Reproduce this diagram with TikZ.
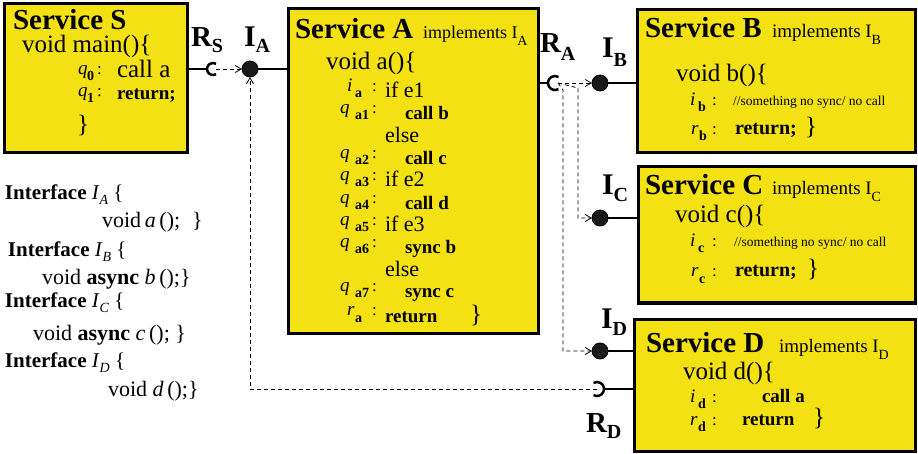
\documentclass[tikz,border=0pt]{standalone}
\usepackage{fontspec}
\setmainfont{Liberation Serif}
\usetikzlibrary{arrows.meta}
\definecolor{svcyellow}{RGB}{243,225,20}
\newcommand{\fsz}[1]{\fontsize{#1}{#1}\selectfont}
% label: letter, sub, w1, w2, raise
\newcommand{\lab}[5]{\raisebox{#5}{\makebox[#3][l]{\fsz{19}\itshape #1}\makebox[#4][l]{\raisebox{-6pt}{\fsz{14}\bfseries #2}}\fsz{17}:}}
\begin{document}
\begin{tikzpicture}[x=1pt,y=-1pt,
  svc/.style={draw=black, line width=3pt, fill=svcyellow, inner sep=0pt, outer sep=0pt},
  conn/.style={line width=2.5pt},
  ball/.style={circle, fill=black!90, draw=black, line width=0.8pt, inner sep=0pt, minimum size=16pt, outer sep=0pt},
  dsh/.style={dash pattern=on 4pt off 3pt, line width=0.8pt},
  tip/.style={-{Straight Barb[length=6pt,width=7pt,line width=0.8pt]}},
  txt/.style={anchor=base west, inner sep=0pt, outer sep=0pt},
]
\useasboundingbox (0,0) rectangle (918,454);

% boxes
\node[svc, minimum width=183pt, minimum height=149pt] (S) at (95.5,78.5) {};
\node[svc, minimum width=250pt, minimum height=324pt] (A) at (413,171) {};
\node[svc, minimum width=278pt, minimum height=143pt] (B) at (776,81.5) {};
\node[svc, minimum width=277pt, minimum height=136pt] (C) at (776.5,235) {};
\node[svc, minimum width=281pt, minimum height=132pt] (D) at (774.5,385) {};

% balls and sockets
\node[ball] (IA) at (250,69) {};
\node[ball] (IB) at (600,83) {};
\node[ball] (IC) at (600,218) {};
\node[ball] (ID) at (600,351) {};
\coordinate (RS) at (213,69);
\coordinate (RA) at (555,83);
\coordinate (RD) at (597,389);
\coordinate (bendC) at (578,88);
\coordinate (bendD) at (563,90);

% solid connectors
\draw[conn] (S.east |- RS) -- ([xshift=-6pt]RS);
\draw[conn] ([shift={(60:6)}]RS) arc[start angle=60,end angle=300,radius=6];
\draw[conn] (IA) -- (IA -| A.west);
\draw[conn] (A.east |- RA) -- ([xshift=-7pt]RA);
\draw[conn] ([shift={(60:7)}]RA) arc[start angle=60,end angle=300,radius=7];
\draw[conn] (IB) -- (IB -| B.west);
\draw[conn] (IC) -- (IC -| C.west);
\draw[conn] (ID) -- (ID -| D.west);
\draw[conn] ([shift={(120:7)}]RD) arc[start angle=120,end angle=-120,radius=7];
\draw[conn] ([xshift=7pt]RD) -- (RD -| D.west);

% dashed connectors
\draw[dsh,tip] ([xshift=3pt]RS) -- (IA);
\draw[dsh,tip] ([xshift=3pt]RA) -- (IB);
\draw[dsh,tip] ([xshift=3pt]RA) -- (bendC) |- (IC);
\draw[dsh,tip] ([xshift=3pt]RA) -- (bendD) |- (ID);
\draw[dsh,tip] (RD) -| (IA);

% port labels
\node[txt] (lRS) at (191,47) {\fsz{29}\bfseries R\raisebox{-6pt}{\fsz{20}S}};
\node[txt] (lIA) at (244,47) {\fsz{30}\bfseries I\raisebox{-6pt}{\fsz{20}A}};
\node[txt] (lRA) at (540,53) {\fsz{29}\bfseries R\raisebox{-8pt}{\fsz{20}A}};
\node[txt] (lIB) at (602,58) {\fsz{30}\bfseries I\raisebox{-9pt}{\fsz{20}B}};
\node[txt] (lIC) at (602,195) {\fsz{30}\bfseries I\raisebox{-7pt}{\fsz{20}C}};
\node[txt] (lID) at (601,328) {\fsz{30}\bfseries I\raisebox{-7pt}{\fsz{20}D}};
\node[txt] (lRD) at (586,432) {\fsz{29}\bfseries R\raisebox{-6pt}{\fsz{20}D}};

% Service S
\node[txt] (St) at (13,30) {\fsz{29}\bfseries Service S};
\node[txt] (Sm) at (22,53) {\fsz{25}void main()\{};
\node[txt] (Sq0) at (78,77) {\lab{q}{0}{9pt}{10pt}{2pt}};
\node[txt] (Sc0) at (117,78) {\fsz{25}call a};
\node[txt] (Sq1) at (78,99) {\lab{q}{1}{9pt}{10pt}{2pt}};
\node[txt] (Sc1) at (117,100) {\fsz{19}\bfseries return;};
\node[txt] (Sb) at (77,133) {\fsz{25}\}};

% Service A
\node[txt] (At) at (295,39) {\fsz{29}\bfseries Service A};
\node[txt] (Ai) at (423,39) {\fsz{18}implements I\raisebox{-7pt}{\fsz{14}A}};
\node[txt] (Am) at (326,70) {\fsz{25}void a()\{};
\node[txt] (Al1) at (347,98) {\lab{i}{a}{8pt}{17pt}{6pt}};
\node[txt] (As1) at (385,98) {\fsz{22}if e1};
\node[txt] (Al2) at (340,120) {\lab{q}{a1}{15pt}{17pt}{6pt}};
\node[txt] (As2) at (405,120) {\fsz{19}\bfseries call b};
\node[txt] (As3) at (385,143) {\fsz{22}else};
\node[txt] (Al4) at (340,165) {\lab{q}{a2}{15pt}{17pt}{6pt}};
\node[txt] (As4) at (405,165) {\fsz{19}\bfseries call c};
\node[txt] (Al5) at (340,187) {\lab{q}{a3}{15pt}{17pt}{6pt}};
\node[txt] (As5) at (385,187) {\fsz{22}if e2};
\node[txt] (Al6) at (340,210) {\lab{q}{a4}{15pt}{17pt}{6pt}};
\node[txt] (As6) at (405,210) {\fsz{19}\bfseries call d};
\node[txt] (Al7) at (340,232) {\lab{q}{a5}{15pt}{17pt}{6pt}};
\node[txt] (As7) at (385,232) {\fsz{22}if e3};
\node[txt] (Al8) at (340,254) {\lab{q}{a6}{15pt}{17pt}{6pt}};
\node[txt] (As8) at (405,254) {\fsz{19}\bfseries sync b};
\node[txt] (As9) at (385,277) {\fsz{22}else};
\node[txt] (Al10) at (340,298) {\lab{q}{a7}{15pt}{17pt}{6pt}};
\node[txt] (As10) at (405,298) {\fsz{19}\bfseries sync c};
\node[txt] (Al11) at (347,322) {\lab{r}{a}{8pt}{17pt}{6pt}};
\node[txt] (As11) at (385,322) {\fsz{19}\bfseries return};
\node[txt] (Ab) at (470,322) {\fsz{25}\}};

% Service B
\node[txt] (Bt) at (645,38) {\fsz{29}\bfseries Service B};
\node[txt] (Bi) at (772,38) {\fsz{19}implements I\raisebox{-7pt}{\fsz{14}B}};
\node[txt] (Bm) at (676,82) {\fsz{25}void b()\{};
\node[txt] (Bl1) at (690,106) {\lab{i}{b}{8pt}{14pt}{0pt}};
\node[txt] (Bs1) at (733,106) {\fsz{13.5}//something no sync/ no call};
\node[txt] (Bl2) at (691,135) {\lab{r}{b}{8pt}{13pt}{0pt}};
\node[txt] (Bs2) at (735,135) {\fsz{20}\bfseries return;};
\node[txt] (Bb) at (805,135) {\fsz{25}\}};

% Service C
\node[txt] (Ct) at (645,195) {\fsz{29}\bfseries Service C};
\node[txt] (Ci) at (772,195) {\fsz{19}implements I\raisebox{-7pt}{\fsz{14}C}};
\node[txt] (Cm) at (675,223) {\fsz{25}void c()\{};
\node[txt] (Cl1) at (690,247) {\lab{i}{c}{8pt}{14pt}{0pt}};
\node[txt] (Cs1) at (734,247) {\fsz{13.5}//something no sync/ no call};
\node[txt] (Cl2) at (691,277) {\lab{r}{c}{8pt}{13pt}{0pt}};
\node[txt] (Cs2) at (735,277) {\fsz{20}\bfseries return;};
\node[txt] (Cb) at (807,277) {\fsz{25}\}};

% Service D
\node[txt] (Dt) at (646,352) {\fsz{29}\bfseries Service D};
\node[txt] (Di) at (779,352) {\fsz{19}implements I\raisebox{-7pt}{\fsz{14}D}};
\node[txt] (Dm) at (683,379) {\fsz{25}void d()\{};
\node[txt] (Dl1) at (690,402) {\lab{i}{d}{8pt}{14pt}{0pt}};
\node[txt] (Ds1) at (762,402) {\fsz{19}\bfseries call a};
\node[txt] (Dl2) at (690,425) {\lab{r}{d}{8pt}{14pt}{0pt}};
\node[txt] (Ds2) at (742,425) {\fsz{19}\bfseries return};
\node[txt] (Db) at (813,425) {\fsz{25}\}};

% interfaces
\node[txt] (ifA) at (5,200) {\fsz{21}\textbf{Interface} \textit{I}\raisebox{-5pt}{\fsz{14}\itshape A} \{};
\node[txt] (ifAv) at (102,228) {\fsz{22}void\,\textit{a}\,();\hspace{12pt}\}};
\node[txt] (ifB) at (8,257) {\fsz{21}\textbf{Interface} \textit{I}\raisebox{-5pt}{\fsz{14}\itshape B} \{};
\node[txt] (ifBv) at (42,284) {\fsz{22}void \textbf{async} \textit{b}\,();\}};
\node[txt] (ifC) at (5,308) {\fsz{21}\textbf{Interface} \textit{I}\raisebox{-5pt}{\fsz{14}\itshape C} \{};
\node[txt] (ifCv) at (33,340) {\fsz{22}void \textbf{async} \textit{c}\,(); \}};
\node[txt] (ifD) at (5,367) {\fsz{21}\textbf{Interface} \textit{I}\raisebox{-5pt}{\fsz{14}\itshape D} \{};
\node[txt] (ifDv) at (108,396) {\fsz{22}void \textit{d}\,();\}};
\end{tikzpicture}
\end{document}
